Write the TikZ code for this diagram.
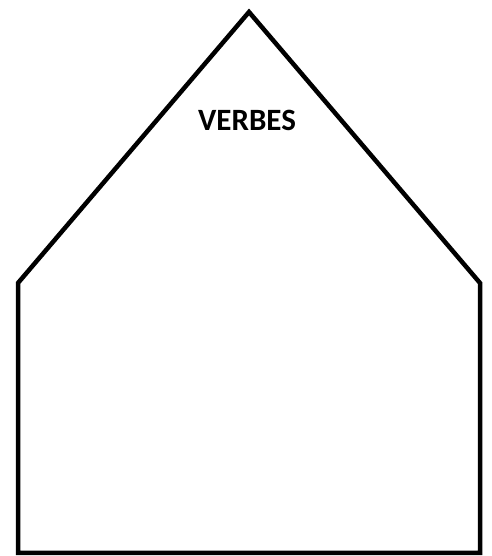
\documentclass[tikz,border=0pt]{standalone}
\usepackage{fontspec}
\setmainfont{Carlito}
\begin{document}
\begin{tikzpicture}[x=1pt, y=1pt, line join=miter, line cap=rect]
			\useasboundingbox (0,0) rectangle (491,556);
			\path
			(18,3) coordinate (BL)
			(480,3) coordinate (BR)
			(480,273) coordinate (R)
			(249,544) coordinate (T)
			(18,273) coordinate (L)
			;
			\draw[line width=4.5pt] (BL)--(BR)--(R)--(T)--(L)--cycle;
			\node[font=\fontsize{31}{33}\selectfont\bfseries] (titre) at (247,436) {VERBES};
		\end{tikzpicture}
\end{document}
